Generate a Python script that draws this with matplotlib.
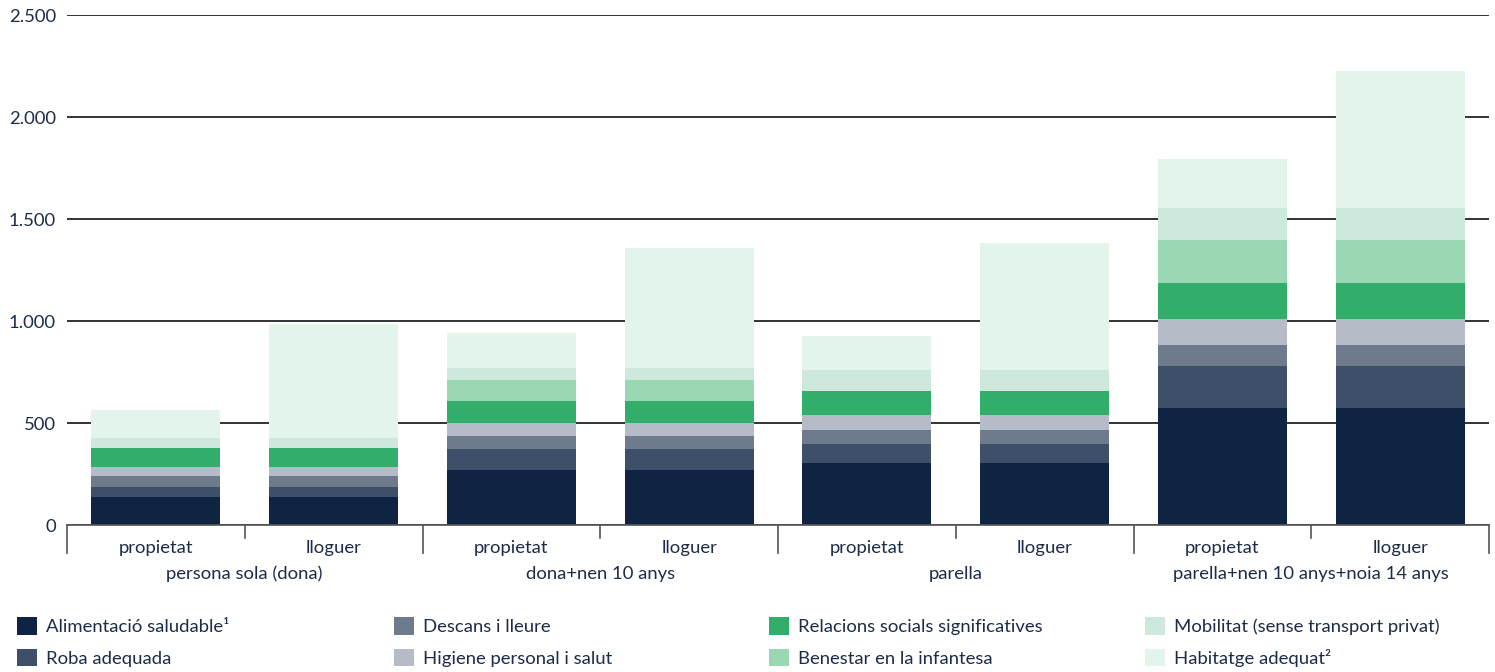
import matplotlib
matplotlib.use("Agg")
import matplotlib.pyplot as plt
import matplotlib.transforms as mtransforms
from matplotlib.patches import Patch
from matplotlib.ticker import FuncFormatter, MultipleLocator

plt.rcParams['font.family'] = ['Lato', 'DejaVu Sans']

# data (euros / month)
tenure = ['propietat', 'lloguer'] * 4
households = ['persona sola (dona)', 'dona+nen 10 anys', 'parella', 'parella+nen 10 anys+noia 14 anys']

alimentacio = [139, 139, 268, 268, 305, 305, 574, 574]
roba = [47, 47, 105, 105, 92, 92, 203, 203]
descans = [54, 54, 64, 64, 69, 69, 106, 106]
higiene = [44, 44, 64, 64, 73, 73, 129, 129]
relacions = [92, 92, 109, 109, 119, 119, 172, 172]
benestar = [0, 0, 102, 102, 0, 0, 214, 214]
mobilitat = [49, 49, 57, 57, 102, 102, 158, 158]
habitatge = [139, 559, 173, 590, 166, 622, 238, 669]

series_labels = ['Alimentació saludable¹', 'Roba adequada', 'Descans i lleure',
                 'Higiene personal i salut', 'Relacions socials significatives',
                 'Benestar en la infantesa', 'Mobilitat (sense transport privat)',
                 'Habitatge adequat²']
series_colors = ['#0f2342', '#3d4f69', '#6e7b8d', '#b5bcc7',
                 '#33ae6a', '#9ad7b3', '#cde9db', '#e3f4ea']

TXT = '#1d2b48'
FS = 13.3

fig = plt.figure(figsize=(14.95, 6.72), dpi=100)
ax = fig.add_axes([67 / 1495, 147 / 672, 1422 / 1495, 510 / 672])

x = list(range(len(tenure)))
bottom = [0] * len(x)
for vals, lab, col in zip([alimentacio, roba, descans, higiene, relacions, benestar, mobilitat, habitatge],
                          series_labels, series_colors):
    ax.bar(x, vals, bottom=bottom, width=0.725, color=col, label=lab, zorder=3, linewidth=0)
    bottom = [b + v for b, v in zip(bottom, vals)]

ax.set_xlim(-0.5, len(x) - 0.5)
ax.set_ylim(0, 2500)
ax.yaxis.set_major_locator(MultipleLocator(500))
ax.yaxis.set_major_formatter(FuncFormatter(lambda v, p: f"{int(v):,}".replace(',', '.')))
ax.tick_params(axis='y', length=0, pad=8, labelsize=FS, labelcolor=TXT)
ax.tick_params(axis='x', length=0, labelbottom=False)
ax.set_xticks([])
ax.grid(axis='y', color='#111111', linewidth=1.2, zorder=0)
for s in ['top', 'right', 'left']:
    ax.spines[s].set_visible(False)
ax.spines['bottom'].set_color('#555555')
ax.spines['bottom'].set_linewidth(1.2)
ax.spines['bottom'].set_zorder(4)

# two-level category axis
trans = mtransforms.blended_transform_factory(ax.transData, ax.transAxes)
px = 1 / 510
for i, t in enumerate(tenure):
    ax.text(i, -23 * px, t, transform=trans, ha='center', va='center', fontsize=FS, color=TXT)
for g, name in enumerate(households):
    ax.text(2 * g + 0.5, -49 * px, name, transform=trans, ha='center', va='center', fontsize=FS, color=TXT)
for k in range(len(x) + 1):
    edge = k - 0.5
    depth = 28 if k % 2 == 0 else 13
    ax.plot([edge, edge], [0, -depth * px], transform=trans, color='#555555', lw=1.2, clip_on=False)

# legend: four columns of two entries
handles = [Patch(facecolor=c, edgecolor='none') for c in series_colors]
col_x = [10, 387, 762, 1138]
for c in range(4):
    leg = fig.legend(handles[2 * c:2 * c + 2], series_labels[2 * c:2 * c + 2],
                     loc='upper left', bbox_to_anchor=(col_x[c] / 1495, 1 - 610 / 672),
                     frameon=False, fontsize=FS, handlelength=1.05, handleheight=1.05,
                     handletextpad=0.5, labelspacing=0.75, borderaxespad=0, borderpad=0.4)
    for t in leg.get_texts():
        t.set_color(TXT)

fig.savefig('out.png', dpi=100, facecolor='white')
